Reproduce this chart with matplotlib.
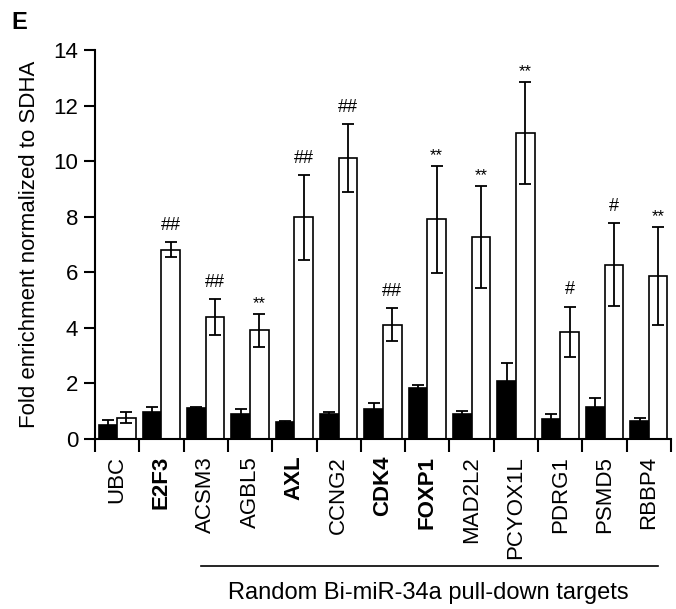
import numpy as np
import matplotlib
matplotlib.use("Agg")
import matplotlib.pyplot as plt
from matplotlib.lines import Line2D
import matplotlib.transforms as mtransforms

plt.rcParams["font.family"] = "Liberation Sans"
plt.rcParams["font.size"] = 16

genes = ["UBC", "E2F3", "ACSM3", "AGBL5", "AXL", "CCNG2", "CDK4", "FOXP1",
         "MAD2L2", "PCYOX1L", "PDRG1", "PSMD5", "RBBP4"]
bold_genes = ["E2F3", "AXL", "CDK4", "FOXP1"]

ctrl_mean = [0.52, 0.96, 1.13, 0.90, 0.60, 0.90, 1.08, 1.83, 0.90, 2.08, 0.71, 1.17, 0.65]
ctrl_err = [0.18, 0.19, 0.03, 0.18, 0.04, 0.06, 0.22, 0.12, 0.12, 0.64, 0.19, 0.31, 0.12]
bi_mean = [0.77, 6.81, 4.39, 3.91, 7.98, 10.10, 4.11, 7.91, 7.26, 11.00, 3.85, 6.27, 5.88]
bi_err = [0.20, 0.27, 0.64, 0.60, 1.52, 1.22, 0.59, 1.92, 1.84, 1.84, 0.91, 1.50, 1.76]
marks = ["", "##", "##", "**", "##", "##", "##", "**", "**", "**", "#", "#", "**"]

fig, ax = plt.subplots(figsize=(6.76, 6.09), dpi=100)
fig.subplots_adjust(left=0.1405, right=0.9926, bottom=0.279, top=0.918)

x = np.arange(len(genes))
w = 0.42
ebar = {"ecolor": "black", "elinewidth": 1.3, "capsize": 4.5, "capthick": 1.3}

ax.bar(x - w / 2, ctrl_mean, w, color="black", edgecolor="black", linewidth=1.2,
       yerr=ctrl_err, error_kw=ebar, zorder=2)
ax.bar(x + w / 2, bi_mean, w, color="white", edgecolor="black", linewidth=1.2,
       yerr=bi_err, error_kw=ebar, zorder=2)

# significance marks
for i, m in enumerate(marks):
    if not m:
        continue
    top = bi_mean[i] + bi_err[i]
    if m.startswith("*"):
        ax.annotate(m, (x[i] + w / 2, top), xytext=(0, 2), textcoords="offset points",
                    ha="center", va="bottom", fontsize=12)
    else:
        ax.annotate(m, (x[i] + w / 2, top), xytext=(0, 6), textcoords="offset points",
                    ha="center", va="bottom", fontsize=13)

ax.set_xlim(-0.5, len(genes) - 0.5)
ax.set_ylim(0, 14)
ax.set_yticks(np.arange(0, 15, 2))
ax.set_xticks(x)
ax.set_xticklabels(genes, rotation=90)
for lab in ax.get_xticklabels():
    if lab.get_text() in bold_genes:
        lab.set_fontweight("bold")
ax.set_xticks(np.arange(-0.5, len(genes)), minor=True)
ax.tick_params(axis="x", which="major", length=0, pad=12)
ax.tick_params(axis="x", which="minor", length=9, width=1.5, direction="out")
ax.tick_params(axis="y", length=8, width=1.5, direction="out", pad=4)

for s in ["top", "right"]:
    ax.spines[s].set_visible(False)
for s in ["left", "bottom"]:
    ax.spines[s].set_linewidth(1.5)

ax.set_ylabel("Fold enrichment normalized to SDHA", labelpad=10)

# bracket line under the random targets
trans = mtransforms.blended_transform_factory(ax.transData, fig.transFigure)
fig.add_artist(Line2D([1.9, 12.2], [1 - 566 / 609] * 2, transform=trans,
                      color="black", linewidth=1.2))
fig.text(0.634, 0.026, "Random Bi-miR-34a pull-down targets", ha="center",
         va="center", fontsize=17)

fig.text(0.017, 0.953, "E", fontsize=17, fontweight="bold", ha="left", va="baseline")

fig.savefig("out.png", dpi=100)
